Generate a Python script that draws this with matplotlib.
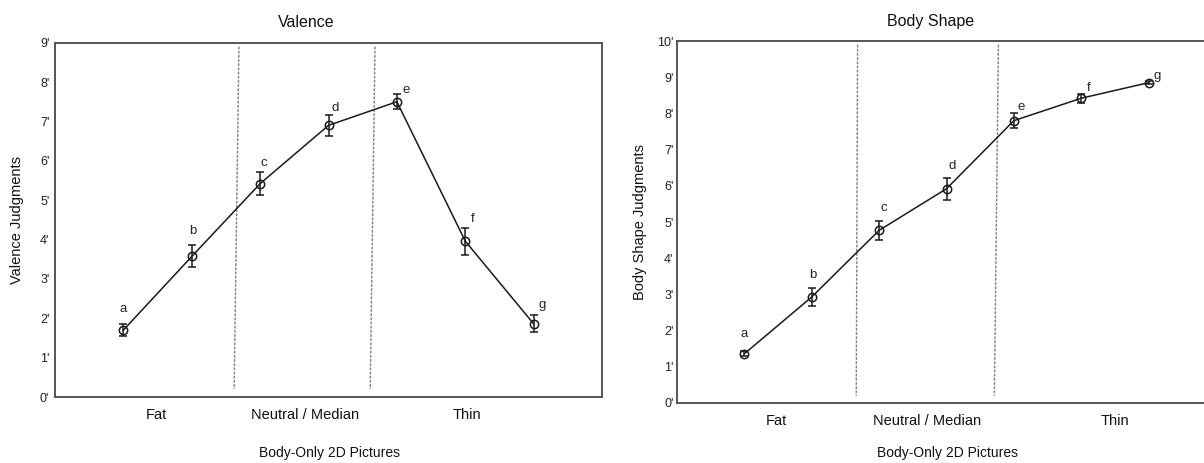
import numpy as np
import matplotlib
matplotlib.use("Agg")
import matplotlib.pyplot as plt

plt.rcParams['font.family'] = ['Liberation Sans', 'DejaVu Sans']

letters = ['a', 'b', 'c', 'd', 'e', 'f', 'g']
groups = ['Fat', 'Neutral / Median', 'Thin']

valence_mean = [1.70, 3.57, 5.42, 6.90, 7.50, 3.96, 1.86]
valence_err = [0.15, 0.28, 0.30, 0.26, 0.19, 0.34, 0.22]

shape_mean = [1.36, 2.93, 4.77, 5.92, 7.80, 8.42, 8.85]
shape_err = [0.07, 0.24, 0.27, 0.30, 0.20, 0.13, 0.05]

x = np.arange(1, 8)

fig = plt.figure(figsize=(12.04, 4.63), dpi=100)
ax1 = fig.add_axes([0.0457, 0.1425, 0.4543, 0.7653])
ax2 = fig.add_axes([0.5623, 0.1296, 0.4477, 0.7818])

px = 72 / 100.0  # pixel -> points

panels = [
    dict(ax=ax1, mean=valence_mean, err=valence_err, ymax=9, title='Valence',
         ylabel='Valence Judgments', title_pos=(0.459, 1.056),
         ylab_x=-0.070, xlab_y=-0.158,
         group_x=[1.48, 3.65, 6.03],
         dividers=[(2.69, 2.62), (4.68, 4.61)],
         offs=[(0, 21), (1, 25), (4, 21), (7, 17), (9, 12), (7, 22), (9, 19)],
         pad=4.0),
    dict(ax=ax2, mean=shape_mean, err=shape_err, ymax=10, title='Body Shape',
         ylabel='Body Shape Judgments', title_pos=(0.471, 1.055),
         ylab_x=-0.068, xlab_y=-0.138,
         group_x=[1.47, 3.71, 6.50],
         dividers=[(2.68, 2.66), (4.77, 4.71)],
         offs=[(0, 20), (1, 22), (5, 22), (6, 23), (7, 14), (7, 10), (9, 7)],
         pad=2.5),
]

for p in panels:
    ax = p['ax']
    ymax = p['ymax']
    ax.set_xlim(0, 8)
    ax.set_ylim(0, ymax)

    for xt, xb in p['dividers']:
        ax.plot([xt, xb], [ymax - 0.1, 0.2], color='#808080', lw=1.0,
                linestyle=(0, (2, 1)), zorder=1)

    ax.errorbar(x, p['mean'], yerr=p['err'], color='#1a1a1a', lw=1.1,
                marker='o', markersize=6, markerfacecolor='none',
                markeredgecolor='#1a1a1a', markeredgewidth=1.1,
                capsize=3, elinewidth=1.1, capthick=1.1, zorder=3)

    for i, lab in enumerate(letters):
        dx, dy = p['offs'][i]
        ax.annotate(lab, (x[i], p['mean'][i]), xytext=(dx * px, dy * px),
                    textcoords='offset points', ha='center', va='center',
                    fontsize=9.5, color='#222222')

    ax.set_yticks(range(0, ymax + 1))
    ax.set_yticklabels([f"{v}'" for v in range(0, ymax + 1)], fontsize=9,
                       color='#222222')
    ax.tick_params(axis='y', length=0, pad=p['pad'])

    ax.set_xticks(p['group_x'])
    ax.set_xticklabels(groups, fontsize=10.5, color='#111111')
    ax.tick_params(axis='x', length=0, pad=8)

    for s in ax.spines.values():
        s.set_color('#555555')
        s.set_linewidth(1.4)

    ax.text(p['title_pos'][0], p['title_pos'][1], p['title'], transform=ax.transAxes,
            ha='center', va='center', fontsize=11.5, color='#111111')
    ax.text(p['ylab_x'], 0.5, p['ylabel'], transform=ax.transAxes, rotation=90,
            ha='center', va='center', fontsize=10.5, color='#111111')
    ax.text(0.502, p['xlab_y'], 'Body-Only 2D Pictures', transform=ax.transAxes,
            ha='center', va='center', fontsize=10, color='#111111')

fig.savefig('out.png', dpi=100)
